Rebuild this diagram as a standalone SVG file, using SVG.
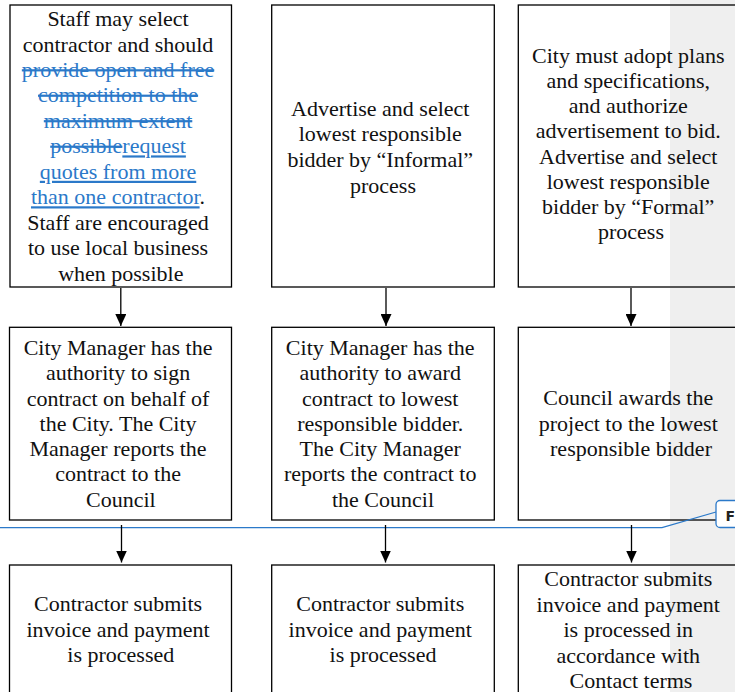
<svg xmlns="http://www.w3.org/2000/svg" width="735" height="692" viewBox="0 0 735 692">
<style>
.box{fill:none;stroke:#000;stroke-width:1.3}
.t{font-family:"Liberation Serif","Times New Roman",serif;font-size:22px;fill:#111;text-anchor:middle}
.b{fill:#2B79C9}
.del{text-decoration:line-through}
.ins{text-decoration:underline}
.conn{stroke:#000;stroke-width:1.3;fill:none;marker-end:url(#ah)}
.fl{stroke:#2B79C9;stroke-width:1.3;fill:none}
</style>
<defs>
<marker id="ah" markerUnits="userSpaceOnUse" markerWidth="12" markerHeight="11" viewBox="0 0 12 11" refX="12" refY="5.5" orient="auto">
<path d="M0,0 L12,5.5 L0,11 z" fill="#000"/>
</marker>
</defs>
<rect x="0" y="0" width="735" height="692" fill="#fff"/>
<rect x="670" y="0" width="65" height="692" fill="#efefef"/>

<g id="n1">
<rect class="box" x="10" y="5" width="221.5" height="282"/>
<text class="t">
<tspan x="120.8" y="26">Staff may select</tspan>
<tspan x="120.8" y="51.5">contractor and should</tspan>
<tspan x="120.8" y="77" class="b del">provide open and free</tspan>
<tspan x="120.8" y="102.4" class="b del">competition to the</tspan>
<tspan x="120.8" y="127.9" class="b del">maximum extent</tspan>
<tspan x="120.8" y="153.4"><tspan class="b del">possible</tspan><tspan class="b ins">request</tspan></tspan>
<tspan x="120.8" y="178.8" class="b ins">quotes from more</tspan>
<tspan x="120.8" y="204.3"><tspan class="b ins">than one contractor</tspan>.</tspan>
<tspan x="120.8" y="229.8">Staff are encouraged</tspan>
<tspan x="120.8" y="255.2">to use local business</tspan>
<tspan x="120.8" y="280.7">when possible</tspan>
</text>
</g>

<g id="n2">
<rect class="box" x="271.7" y="5" width="222.6" height="282"/>
<text class="t">
<tspan x="383" y="115.7">Advertise and select</tspan>
<tspan x="383" y="141.4">lowest responsible</tspan>
<tspan x="383" y="167">bidder by “Informal”</tspan>
<tspan x="383" y="192.7">process</tspan>
</text>
</g>

<g id="n3">
<rect class="box" x="518.3" y="5" width="226" height="282"/>
<text class="t">
<tspan x="631" y="62.7">City must adopt plans</tspan>
<tspan x="631" y="88">and specifications,</tspan>
<tspan x="631" y="113.2">and authorize</tspan>
<tspan x="631" y="138.4">advertisement to bid.</tspan>
<tspan x="631" y="163.6">Advertise and select</tspan>
<tspan x="631" y="188.8">lowest responsible</tspan>
<tspan x="631" y="214">bidder by “Formal”</tspan>
<tspan x="631" y="239.3">process</tspan>
</text>
</g>

<g id="n4">
<rect class="box" x="9.5" y="327.3" width="222" height="192.7"/>
<text class="t">
<tspan x="120.8" y="355">City Manager has the</tspan>
<tspan x="120.8" y="380.3">authority to sign</tspan>
<tspan x="120.8" y="405.6">contract on behalf of</tspan>
<tspan x="120.8" y="430.9">the City. The City</tspan>
<tspan x="120.8" y="456.1">Manager reports the</tspan>
<tspan x="120.8" y="481.4">contract to the</tspan>
<tspan x="120.8" y="506.7">Council</tspan>
</text>
</g>

<g id="n5">
<rect class="box" x="271.7" y="327.3" width="222.6" height="192.7"/>
<text class="t">
<tspan x="383" y="355">City Manager has the</tspan>
<tspan x="383" y="380.3">authority to award</tspan>
<tspan x="383" y="405.6">contract to lowest</tspan>
<tspan x="383" y="430.9">responsible bidder.</tspan>
<tspan x="383" y="456.1">The City Manager</tspan>
<tspan x="383" y="481.4">reports the contract to</tspan>
<tspan x="383" y="506.7">the Council</tspan>
</text>
</g>

<g id="n6">
<rect class="box" x="518.3" y="327.3" width="226" height="192.7"/>
<text class="t">
<tspan x="631" y="405">Council awards the</tspan>
<tspan x="631" y="430.5">project to the lowest</tspan>
<tspan x="631" y="456">responsible bidder</tspan>
</text>
</g>

<g id="n7">
<rect class="box" x="9.5" y="565" width="222" height="140"/>
<text class="t">
<tspan x="120.8" y="611">Contractor submits</tspan>
<tspan x="120.8" y="636.5">invoice and payment</tspan>
<tspan x="120.8" y="662">is processed</tspan>
</text>
</g>

<g id="n8">
<rect class="box" x="271.7" y="565" width="222.6" height="140"/>
<text class="t">
<tspan x="383" y="611">Contractor submits</tspan>
<tspan x="383" y="636.5">invoice and payment</tspan>
<tspan x="383" y="662">is processed</tspan>
</text>
</g>

<g id="n9">
<rect class="box" x="518.3" y="565" width="226" height="140"/>
<text class="t">
<tspan x="631" y="586">Contractor submits</tspan>
<tspan x="631" y="611.6">invoice and payment</tspan>
<tspan x="631" y="637.2">is processed in</tspan>
<tspan x="631" y="662.8">accordance with</tspan>
<tspan x="631" y="688.3">Contact terms</tspan>
</text>
</g>

<g id="comment">
<path class="fl" d="M0,527.7 L662,527.7 L716,512"/>
<rect x="716" y="500.5" width="60" height="27" rx="4" fill="#fff" stroke="#2B79C9" stroke-width="1.3"/>
<text x="725.5" y="520.7" font-family="'DejaVu Sans','Liberation Sans',sans-serif" font-weight="bold" font-size="14" fill="#222">F</text>
</g>

<g id="connectors">
<path class="conn" d="M120.8,288 L120.8,326"/>
<path class="conn" d="M386,288 L386,326"/>
<path class="conn" d="M631,288 L631,326"/>
<path class="conn" d="M121.5,525 L121.5,562.5"/>
<path class="conn" d="M385.5,525 L385.5,562.5"/>
<path class="conn" d="M631.5,525 L631.5,562.5"/>
</g>
</svg>
